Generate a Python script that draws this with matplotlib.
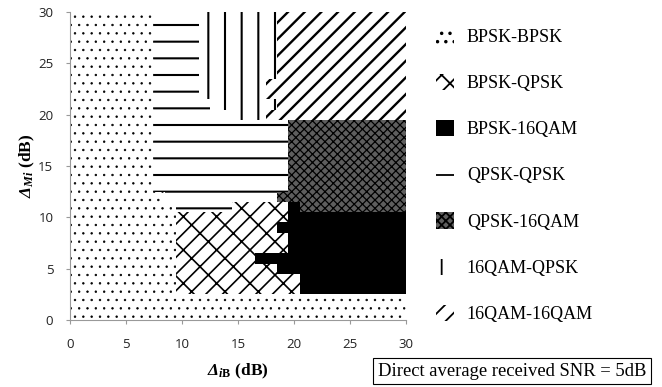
import matplotlib.pyplot as plt
from matplotlib.patches import Patch

# region map, runs of 1 dB cells: (y_first, y_last, x_first, x_last)
bpsk_bpsk = [(0, 2, 0, 30), (3, 11, 0, 9), (12, 12, 0, 8), (13, 30, 0, 7)]
bpsk_qpsk = [(3, 4, 10, 20), (5, 5, 10, 18), (6, 6, 10, 16), (7, 8, 10, 19),
             (9, 9, 10, 18), (10, 10, 10, 19), (11, 11, 15, 19)]
bpsk_16qam = [(3, 4, 21, 30), (5, 5, 19, 30), (6, 6, 17, 30), (7, 8, 20, 30),
              (9, 9, 19, 30), (10, 10, 20, 30), (11, 11, 20, 20)]
qpsk_qpsk = [(11, 11, 10, 14), (12, 12, 9, 18), (13, 19, 8, 19), (20, 20, 8, 14),
             (21, 21, 8, 12), (22, 30, 8, 11)]
qpsk_16qam = [(11, 11, 21, 30), (12, 12, 19, 30), (13, 19, 20, 30)]
qam16_qpsk = [(20, 20, 15, 17), (21, 21, 13, 18), (22, 23, 12, 17), (24, 30, 12, 18)]
qam16_16qam = [(20, 20, 18, 30), (21, 21, 19, 30), (22, 23, 18, 30), (24, 30, 19, 30)]

labels = ['BPSK-BPSK', 'BPSK-QPSK', 'BPSK-16QAM', 'QPSK-QPSK',
          'QPSK-16QAM', '16QAM-QPSK', '16QAM-16QAM']
regions = [bpsk_bpsk, bpsk_qpsk, bpsk_16qam, qpsk_qpsk,
           qpsk_16qam, qam16_qpsk, qam16_16qam]
ticks = [0, 5, 10, 15, 20, 25, 30]
note = 'Direct average received SNR = 5dB'

faces = ['white', 'white', 'black', 'white', '#5e5e5e', 'white', 'white']
hatches = ['..', '/x', None, '-', 'xxxx', '|', '//']
hatch_lw = [0.5, 1.2, 1.0, 1.5, 0.9, 1.5, 1.7]

plt.rcParams['hatch.linewidth'] = 1.3
plt.rcParams['mathtext.fontset'] = 'custom'
plt.rcParams['mathtext.rm'] = 'Liberation Serif'
plt.rcParams['mathtext.it'] = 'Liberation Serif:italic'
plt.rcParams['mathtext.bf'] = 'Liberation Serif:bold'
plt.rcParams['mathtext.bfit'] = 'Liberation Serif:italic:bold'

fig = plt.figure(figsize=(6.62, 3.87), dpi=100)
ax = fig.add_axes([0.1057, 0.1731, 0.5076, 0.7959])

handles = []
for lab, runs, fc, h, hlw in zip(labels, regions, faces, hatches, hatch_lw):
    left = [r[2] - 0.5 for r in runs]
    width = [r[3] - r[2] + 1 for r in runs]
    bottom = [r[0] - 0.5 for r in runs]
    height = [r[1] - r[0] + 1 for r in runs]
    bars = ax.bar(left, height, width=width, bottom=bottom, align='edge',
                  facecolor=fc, edgecolor='black', hatch=h, linewidth=0,
                  antialiased=False)
    hp = Patch(facecolor=fc, edgecolor='black', hatch=h, linewidth=0, label=lab)
    for p in list(bars) + [hp]:
        if hasattr(p, 'set_hatch_linewidth'):
            p.set_hatch_linewidth(hlw)
    handles.append(hp)

ax.set_xlim(0, 30)
ax.set_ylim(0, 30)
ax.set_xticks(ticks)
ax.set_yticks(ticks)
for s in ['top', 'right']:
    ax.spines[s].set_visible(False)
for s in ['left', 'bottom']:
    ax.spines[s].set_color('#999999')
    ax.spines[s].set_linewidth(0.8)
ax.tick_params(length=3, width=0.8, color='#999999', pad=10,
               labelsize=9.5, labelcolor='#222222')
ax.tick_params(axis='y', pad=9)
for t in ax.get_xticklabels() + ax.get_yticklabels():
    t.set_fontfamily('Open Sans')

ax.set_xlabel(r'$\mathbfit{\Delta}_{\mathbfit{i}\mathbf{B}}$' + ' (dB)',
              family='Liberation Serif', fontweight='bold', fontsize=12.5,
              labelpad=8)
ax.set_ylabel(r'$\mathbfit{\Delta}_{\mathbfit{Mi}}$' + ' (dB)',
              family='Liberation Serif', fontweight='bold', fontsize=12.5,
              labelpad=1)

fig.legend(handles=handles, loc='upper left', bbox_to_anchor=(0.648, 0.948),
           frameon=False, prop={'family': 'Liberation Serif', 'size': 13},
           handlelength=1.0, handleheight=1.0, handletextpad=0.7,
           labelspacing=1.55, borderaxespad=0)

fig.text(0.571, 0.041, note, family='Liberation Serif', fontsize=13.4,
         va='center', ha='left',
         bbox=dict(boxstyle='square,pad=0.25', facecolor='white',
                   edgecolor='black', linewidth=0.8))

plt.savefig('out.png', dpi=100)
